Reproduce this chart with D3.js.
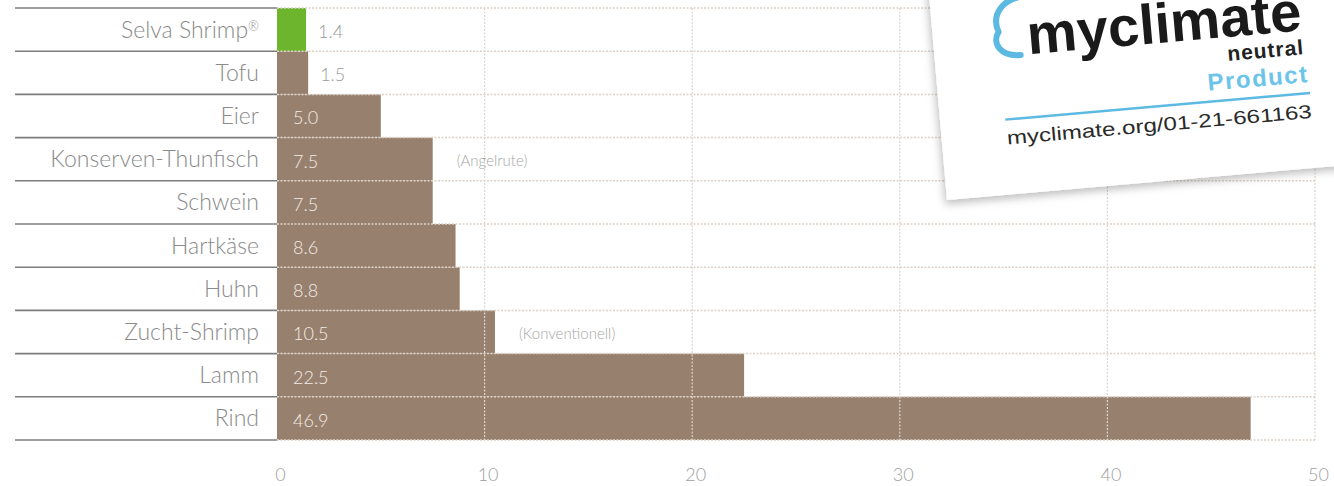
<!DOCTYPE html>
<html>
<head>
<meta charset="utf-8">
<script src="https://cdn.jsdelivr.net/npm/d3@7"></script>
<style>
  html, body { margin: 0; padding: 0; background: #fff; }
  svg { display: block; }
</style>
</head>
<body>
<svg id="chart" width="1334" height="486"></svg>
<script>
const categories = ["Selva Shrimp®", "Tofu", "Eier", "Konserven-Thunfisch", "Schwein", "Hartkäse", "Huhn", "Zucht-Shrimp", "Lamm", "Rind"];
const values = [1.4, 1.5, 5.0, 7.5, 7.5, 8.6, 8.8, 10.5, 22.5, 46.9];
const valueLabels = ["1.4", "1.5", "5.0", "7.5", "7.5", "8.6", "8.8", "10.5", "22.5", "46.9"];
const notes = ["", "", "", "(Angelrute)", "", "", "", "(Konventionell)", "", ""];
const highlight = ["Selva Shrimp®"];
const tickValues = [0, 10, 20, 30, 40, 50];

const svg = d3.select("#chart");
const x = d3.scaleLinear().domain([0, 50]).range([277, 1315]);
const y = d3.scaleBand().domain(categories).range([8, 440]).padding(0);

const font = "Lato, 'Open Sans', sans-serif";
const brown = "#98806f";
const green = "#6cb52d";

// bars
svg.append("g").selectAll("rect").data(categories).join("rect")
  .attr("x", x(0))
  .attr("y", d => y(d))
  .attr("width", (d, i) => x(values[i]) - x(0))
  .attr("height", y.bandwidth())
  .attr("fill", d => highlight.includes(d) ? green : brown);

// horizontal dotted grid (row separators)
const bounds = categories.map(d => y(d)).concat([y.range()[1]]);
svg.append("g").selectAll("line").data(bounds).join("line")
  .attr("x1", x(0)).attr("x2", x(50))
  .attr("y1", d => d).attr("y2", d => d)
  .attr("stroke", "#dcd2c8").attr("stroke-width", 1.5)
  .attr("stroke-dasharray", "2,1.5");

// vertical dotted grid
svg.append("g").selectAll("line").data(tickValues.slice(1)).join("line")
  .attr("x1", d => x(d)).attr("x2", d => x(d))
  .attr("y1", y.range()[0]).attr("y2", y.range()[1])
  .attr("stroke", "#ddd5cc").attr("stroke-width", 1.2)
  .attr("stroke-dasharray", "2,1.5");

// left solid separators
svg.append("g").selectAll("line").data(bounds).join("line")
  .attr("x1", 15).attr("x2", x(0))
  .attr("y1", d => d).attr("y2", d => d)
  .attr("stroke", "#7d7d7d").attr("stroke-width", 1.6);

// category labels
const cl = svg.append("g").selectAll("text").data(categories).join("text")
  .attr("x", 259)
  .attr("y", d => y(d) + y.bandwidth() / 2)
  .attr("dy", "0.35em")
  .attr("text-anchor", "end")
  .attr("font-family", font).attr("font-weight", 300)
  .attr("font-size", 23)
  .attr("fill", "#8a8a8a");
cl.each(function(d) {
  const t = d3.select(this);
  if (d.endsWith("®")) {
    t.append("tspan").text(d.slice(0, -1));
    t.append("tspan").attr("font-size", 13).attr("dy", "-0.55em").text("®");
  } else {
    t.text(d);
  }
});

// value labels
svg.append("g").selectAll("text").data(categories).join("text")
  .attr("x", (d, i) => values[i] < 3 ? x(values[i]) + 12 : x(0) + 16)
  .attr("y", d => y(d) + y.bandwidth() / 2 + 2)
  .attr("dy", "0.35em")
  .attr("font-family", font).attr("font-weight", 300)
  .attr("font-size", 18)
  .attr("fill", (d, i) => values[i] < 3 ? "#9a9a9a" : "#f3ece4")
  .text((d, i) => valueLabels[i]);

// notes
svg.append("g").selectAll("text").data(categories.filter((d, i) => notes[i])).join("text")
  .attr("x", d => x(values[categories.indexOf(d)]) + 24)
  .attr("y", d => y(d) + y.bandwidth() / 2 + 2)
  .attr("dy", "0.35em")
  .attr("font-family", font).attr("font-weight", 300)
  .attr("font-size", 15)
  .attr("fill", "#a5a5a5")
  .text(d => notes[categories.indexOf(d)]);

// x axis tick labels
const axis = d3.axisBottom(x).tickValues(tickValues).tickSize(0).tickFormat(d3.format("d"));
const ag = svg.append("g").attr("transform", "translate(3,465)").call(axis);
ag.select(".domain").remove();
ag.selectAll("text")
  .attr("font-family", font).attr("font-weight", 300)
  .attr("font-size", 18).attr("fill", "#a0a0a0");

// myclimate card
const defs = svg.append("defs");
const f = defs.append("filter").attr("id", "shadow").attr("x", "-20%").attr("y", "-20%").attr("width", "140%").attr("height", "140%");
f.append("feDropShadow").attr("dx", -2).attr("dy", 4).attr("stdDeviation", 4).attr("flood-color", "#000").attr("flood-opacity", 0.25);

const card = svg.append("g").attr("transform", "translate(947,200) rotate(-5)");
card.append("rect")
  .attr("x", 0).attr("y", -300).attr("width", 460).attr("height", 300)
  .attr("fill", "#fff").attr("filter", "url(#shadow)");

card.append("path")
  .attr("d", "M100,-196 C72,-198 60,-180 66,-163 C58,-152 66,-138 86,-138")
  .attr("fill", "none").attr("stroke", "#5cb9e2").attr("stroke-width", 6)
  .attr("stroke-linecap", "round");

const brand = "Liberation Sans, Arial, sans-serif";
card.append("text")
  .attr("x", 369).attr("y", -138).attr("text-anchor", "end")
  .attr("font-family", brand).attr("font-weight", 700)
  .attr("font-size", 56).attr("fill", "#1a1a1a")
  .attr("textLength", 275).attr("lengthAdjust", "spacingAndGlyphs")
  .text("myclimate");
card.append("text")
  .attr("x", 369).attr("y", -114).attr("text-anchor", "end")
  .attr("font-family", brand).attr("font-weight", 700)
  .attr("font-size", 21).attr("fill", "#222").attr("letter-spacing", 1)
  .text("neutral");
card.append("text")
  .attr("x", 371).attr("y", -86).attr("text-anchor", "end")
  .attr("font-family", brand).attr("font-weight", 700)
  .attr("font-size", 24).attr("fill", "#6cc4e8").attr("letter-spacing", 1.5)
  .text("Product");
card.append("line")
  .attr("x1", 65).attr("x2", 371).attr("y1", -75).attr("y2", -75)
  .attr("stroke", "#5cb9e2").attr("stroke-width", 2.5);
card.append("text")
  .attr("x", 65).attr("y", -50)
  .attr("font-family", brand)
  .attr("font-size", 19).attr("fill", "#2a2a2a")
  .attr("textLength", 306).attr("lengthAdjust", "spacingAndGlyphs")
  .text("myclimate.org/01-21-661163");
</script>
</body>
</html>
